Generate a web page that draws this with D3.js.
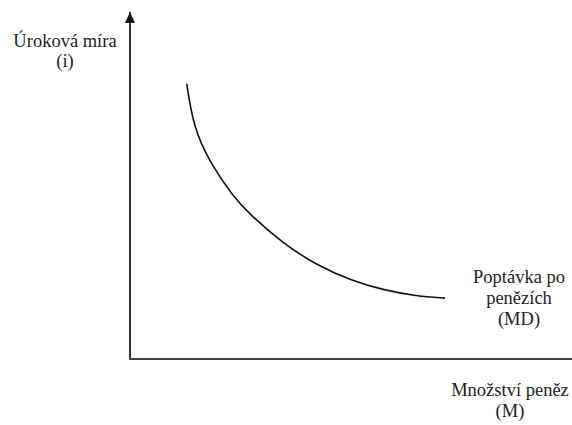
<!DOCTYPE html>
<html lang="cs">
<head>
<meta charset="utf-8">
<title>Poptávka po penězích</title>
<script src="https://d3js.org/d3.v7.min.js"></script>
<style>
  body { margin: 0; background: #fff; }
  .lbl { font-family: "Times New Roman", Times, "Nimbus Roman", Tinos, "DejaVu Serif", serif; font-size: 18.5px; fill: #222; }
</style>
</head>
<body>
<div id="chart"></div>
<script>
// curve points (M = quantity of money, i = interest rate), 0..100 scale
var mValues = [12.9, 14.4, 18.2, 23.5, 27.3, 34.8, 42.4, 50.0, 57.5, 65.2, 71.6]
var iValues = [80.9, 68.3, 57.6, 47.7, 42.4, 34.0, 27.6, 23.2, 20.3, 18.5, 17.9]

var yLabel = ["Úroková míra", "(i)"]
var xLabel = ["Množství peněz", "(M)"]
var curveLabel = ["Poptávka po", "penězích", "(MD)"]

var width = 572
var height = 425

var x = d3.scaleLinear().domain([0, 100]).range([130, 570])
var y = d3.scaleLinear().domain([0, 100]).range([359, 19])

var svg = d3.select("#chart").append("svg")
    .attr("width", width)
    .attr("height", height)

svg.append("defs").append("marker")
    .attr("id", "arrow")
    .attr("viewBox", "0 0 10 11")
    .attr("refX", 5).attr("refY", 0)
    .attr("markerWidth", 10).attr("markerHeight", 11)
    .attr("markerUnits", "userSpaceOnUse")
    .attr("orient", "0")
    .append("path")
    .attr("d", "M0,11 L5,0 L10,11 Z")
    .attr("fill", "#111")

// axes
svg.append("line")
    .attr("x1", x(0)).attr("y1", y(0) + 1)
    .attr("x2", x(0)).attr("y2", 12)
    .attr("stroke", "#333").attr("stroke-width", 2)
    .attr("marker-end", "url(#arrow)")

svg.append("line")
    .attr("x1", x(0) - 1).attr("y1", y(0))
    .attr("x2", width).attr("y2", y(0))
    .attr("stroke", "#444").attr("stroke-width", 2.2)

// demand curve
var pts = mValues.map(function(m, k){ return [m, iValues[k]] })
var line = d3.line()
    .x(function(d){ return x(d[0]) })
    .y(function(d){ return y(d[1]) })
    .curve(d3.curveBasis)

svg.append("path")
    .attr("d", line(pts))
    .attr("fill", "none")
    .attr("stroke", "#111")
    .attr("stroke-width", 1.6)

function addLabel(lines, cx, firstBaseline, step){
    var t = svg.append("text")
        .attr("class", "lbl")
        .attr("text-anchor", "middle")
    lines.forEach(function(s, k){
        t.append("tspan").attr("x", cx).attr("y", firstBaseline + k*step).text(s)
    })
}

addLabel(yLabel, 65, 47, 20)
addLabel(curveLabel, 519, 283, 21)
addLabel(xLabel, 510, 396, 21)
</script>
</body>
</html>
